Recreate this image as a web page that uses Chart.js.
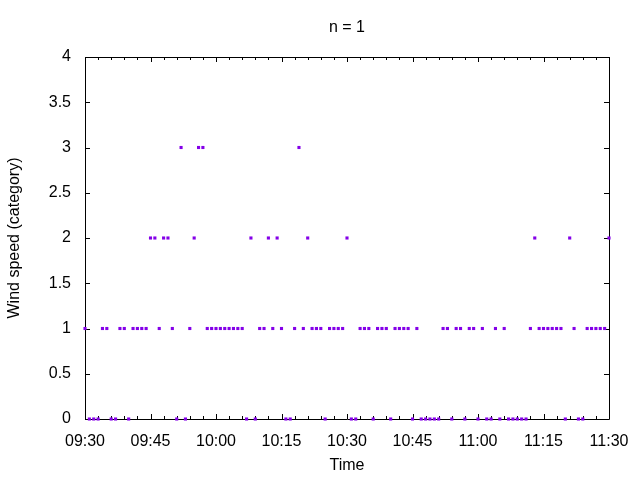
<!DOCTYPE html>
<html>
<head>
<meta charset="utf-8">
<script src="https://cdn.jsdelivr.net/npm/chart.js@4.4.1/dist/chart.umd.min.js"></script>
<style>
  html, body { margin: 0; padding: 0; background: #fff; }
  #wrap { width: 640px; height: 480px; }
</style>
</head>
<body>
<div id="wrap"><canvas id="chart" width="640" height="480"></canvas></div>
<script>
// one reading per minute, 09:30 .. 11:30
const times = [
  "09:30","09:31","09:32","09:33","09:34","09:35","09:36","09:37","09:38","09:39",
  "09:40","09:41","09:42","09:43","09:44","09:45","09:46","09:47","09:48","09:49",
  "09:50","09:51","09:52","09:53","09:54","09:55","09:56","09:57","09:58","09:59",
  "10:00","10:01","10:02","10:03","10:04","10:05","10:06","10:07","10:08","10:09",
  "10:10","10:11","10:12","10:13","10:14","10:15","10:16","10:17","10:18","10:19",
  "10:20","10:21","10:22","10:23","10:24","10:25","10:26","10:27","10:28","10:29",
  "10:30","10:31","10:32","10:33","10:34","10:35","10:36","10:37","10:38","10:39",
  "10:40","10:41","10:42","10:43","10:44","10:45","10:46","10:47","10:48","10:49",
  "10:50","10:51","10:52","10:53","10:54","10:55","10:56","10:57","10:58","10:59",
  "11:00","11:01","11:02","11:03","11:04","11:05","11:06","11:07","11:08","11:09",
  "11:10","11:11","11:12","11:13","11:14","11:15","11:16","11:17","11:18","11:19",
  "11:20","11:21","11:22","11:23","11:24","11:25","11:26","11:27","11:28","11:29",
  "11:30"
];

const windSpeed = [
  1, 0, 0, 0, 1, 1, 0, 0, 1, 1,
  0, 1, 1, 1, 1, 2, 2, 1, 2, 2,
  1, 0, 3, 0, 1, 2, 3, 3, 1, 1,
  1, 1, 1, 1, 1, 1, 1, 0, 2, 0,
  1, 1, 2, 1, 2, 1, 0, 0, 1, 3,
  1, 2, 1, 1, 1, 0, 1, 1, 1, 1,
  2, 0, 0, 1, 1, 1, 0, 1, 1, 1,
  0, 1, 1, 1, 1, 0, 1, 0, 0, 0,
  0, 0, 1, 1, 0, 1, 1, 0, 1, 1,
  0, 1, 0, 0, 1, 0, 1, 0, 0, 0,
  0, 0, 1, 2, 1, 1, 1, 1, 1, 1,
  0, 2, 1, 0, 0, 1, 1, 1, 1, 1,
  2
];

const xTickLabels = ["09:30", "09:45", "10:00", "10:15", "10:30", "10:45", "11:00", "11:15", "11:30"];
const yTickLabels = ["0", "0.5", "1", "1.5", "2", "2.5", "3", "3.5", "4"];
const chartTitle = "n = 1";

const toMinutes = (t) => {
  const [h, m] = t.split(":").map(Number);
  return h * 60 + m;
};

const xMin = toMinutes(xTickLabels[0]);
const xMax = toMinutes(xTickLabels[xTickLabels.length - 1]);
const points = times.map((t, i) => ({ x: toMinutes(t), y: windSpeed[i] }));

const FONT = "'Liberation Sans', Arial, sans-serif";

// gnuplot style box with inward ticks on all four sides
const framePlugin = {
  id: "frame",
  beforeDatasetsDraw(chart) {
    const { ctx, chartArea: a, scales } = chart;
    const xs = scales.x, ys = scales.y;
    ctx.save();
    ctx.strokeStyle = "#000";
    ctx.lineWidth = 1;
    ctx.beginPath();
    ctx.rect(Math.round(a.left) + 0.5, Math.round(a.top) + 0.5,
      Math.round(a.right - a.left), Math.round(a.bottom - a.top));

    const major = 5, minor = 3;
    for (let m = xMin; m <= xMax; m += 3) {
      const px = Math.round(xs.getPixelForValue(m)) + 0.5;
      const len = (m - xMin) % 15 === 0 ? major : minor;
      ctx.moveTo(px, a.bottom); ctx.lineTo(px, a.bottom - len);
      ctx.moveTo(px, a.top); ctx.lineTo(px, a.top + len);
    }
    yTickLabels.forEach((lbl) => {
      const py = Math.round(ys.getPixelForValue(Number(lbl))) + 0.5;
      ctx.moveTo(a.left, py); ctx.lineTo(a.left + major, py);
      ctx.moveTo(a.right, py); ctx.lineTo(a.right - major, py);
    });
    ctx.stroke();
    ctx.restore();
  },
  // title centred over the plot area, like gnuplot
  afterDraw(chart) {
    const { ctx, chartArea: a } = chart;
    ctx.save();
    ctx.fillStyle = "#000";
    ctx.font = "16px " + FONT;
    ctx.textAlign = "center";
    ctx.textBaseline = "middle";
    ctx.fillText(chartTitle, (a.left + a.right) / 2, 28);
    ctx.restore();
  }
};

new Chart(document.getElementById("chart").getContext("2d"), {
  type: "scatter",
  data: {
    datasets: [
      {
        label: "Wind speed",
        data: points,
        backgroundColor: "#8400e8",
        borderWidth: 0,
        pointStyle: "rect",
        pointRadius: 2.2,
        pointHoverRadius: 2.2,
        clip: false,
      },
    ],
  },
  options: {
    responsive: false,
    animation: false,
    layout: { padding: { left: 0, right: 31, top: 57, bottom: 0 } },
    plugins: {
      legend: { display: false },
      tooltip: { enabled: false },
      title: { display: false },
    },
    scales: {
      x: {
        type: "linear",
        min: xMin,
        max: xMax,
        afterFit: (scale) => { scale.height = 61; },
        afterBuildTicks: (scale) => {
          scale.ticks = xTickLabels.map((t) => ({ value: toMinutes(t) }));
        },
        ticks: {
          color: "#000",
          font: { family: FONT, size: 16 },
          padding: 5,
          maxRotation: 0,
          autoSkip: false,
          callback: (value) => xTickLabels.find((t) => toMinutes(t) === value) || "",
        },
        grid: { display: false },
        border: { display: false },
        title: {
          display: true,
          text: "Time",
          color: "#000",
          font: { family: FONT, size: 16 },
          padding: { top: 0, bottom: 5 },
        },
      },
      y: {
        min: 0,
        max: 4,
        afterFit: (scale) => { scale.width = 85; },
        afterBuildTicks: (scale) => {
          scale.ticks = yTickLabels.map((t) => ({ value: Number(t) }));
        },
        ticks: {
          color: "#000",
          font: { family: FONT, size: 16 },
          padding: 6,
          callback: (value) => yTickLabels.find((t) => Number(t) === value) || "",
        },
        grid: { display: false },
        border: { display: false },
        title: {
          display: true,
          text: "Wind speed (category)",
          color: "#000",
          font: { family: FONT, size: 16 },
          padding: { top: 5, bottom: 0 },
        },
      },
    },
  },
  plugins: [framePlugin],
});
</script>
</body>
</html>
